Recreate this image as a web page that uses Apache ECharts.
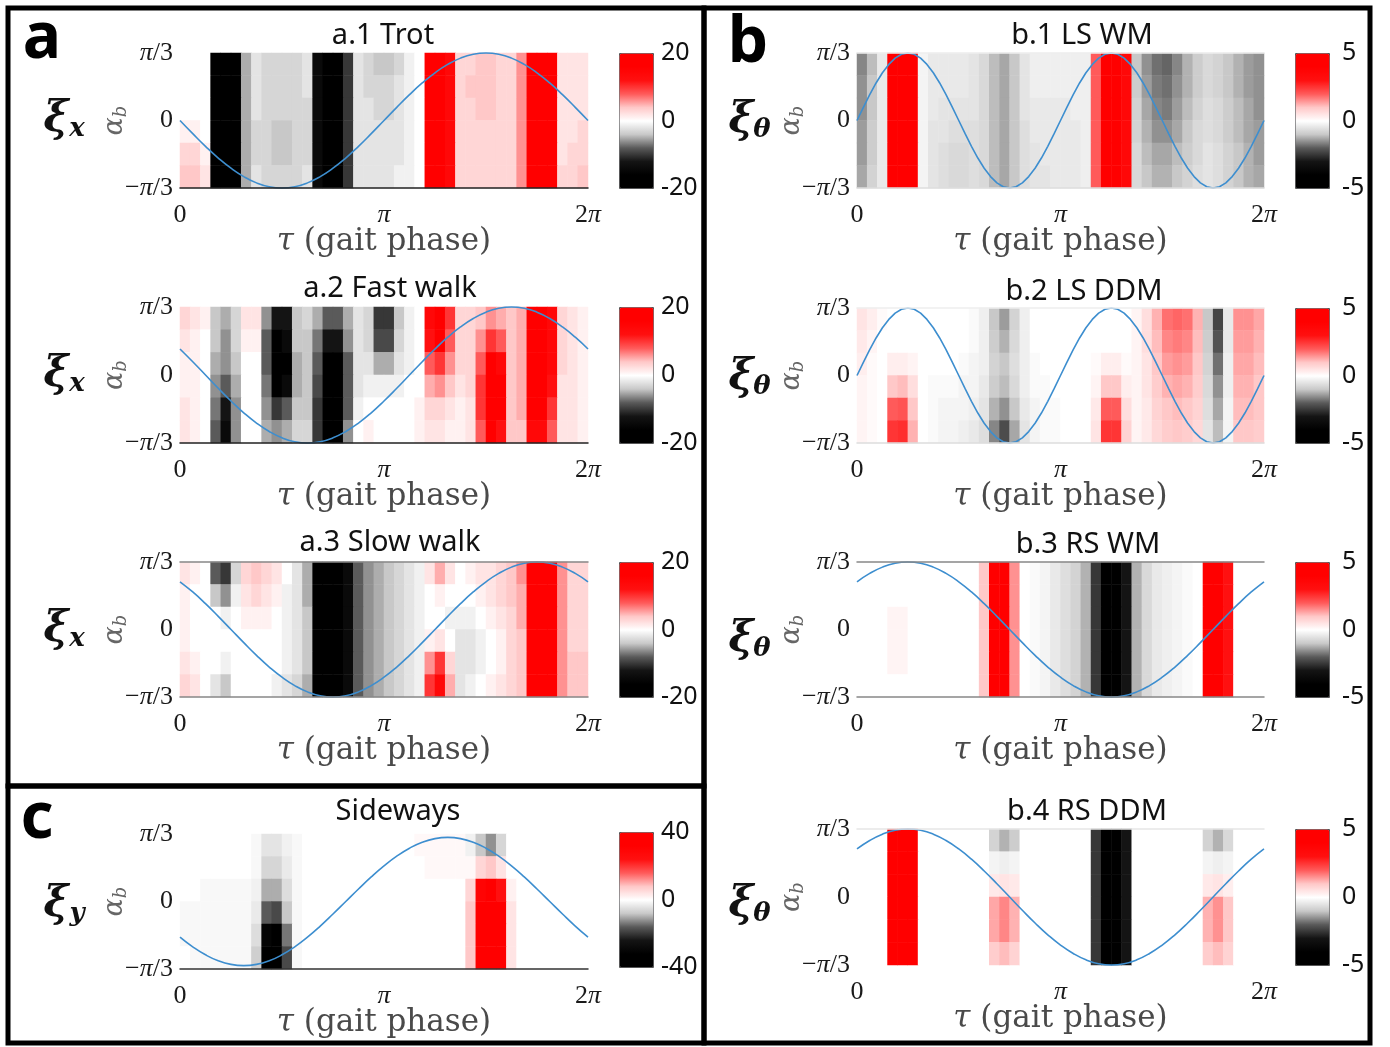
<!DOCTYPE html>
<html><head><meta charset="utf-8">
<script src="https://cdn.jsdelivr.net/npm/echarts@6/dist/echarts.min.js"></script>
<style>html,body{margin:0;padding:0;background:#fff}#chart{width:1390px;height:1047px}</style>
</head><body><div id="chart"></div>
<script>
// ---------- DATA ----------
// gait phase sample positions (in units of pi)
const tau33 = [0,0.0625,0.125,0.1875,0.25,0.3125,0.375,0.4375,0.5,0.5625,0.625,0.6875,0.75,0.8125,0.875,0.9375,1,1.0625,1.125,1.1875,1.25,1.3125,1.375,1.4375,1.5,1.5625,1.625,1.6875,1.75,1.8125,1.875,1.9375,2];
const tau65 = [0,0.03125,0.0625,0.09375,0.125,0.15625,0.1875,0.21875,0.25,0.28125,0.3125,0.34375,0.375,0.40625,0.4375,0.46875,0.5,0.53125,0.5625,0.59375,0.625,0.65625,0.6875,0.71875,0.75,0.78125,0.8125,0.84375,0.875,0.90625,0.9375,0.96875,1,1.03125,1.0625,1.09375,1.125,1.15625,1.1875,1.21875,1.25,1.28125,1.3125,1.34375,1.375,1.40625,1.4375,1.46875,1.5,1.53125,1.5625,1.59375,1.625,1.65625,1.6875,1.71875,1.75,1.78125,1.8125,1.84375,1.875,1.90625,1.9375,1.96875,2];

// body angle trajectories (in units of pi/3)
const a1Curve = [0,-.195,-.383,-.556,-.707,-.831,-.924,-.981,-1,-.981,-.924,-.831,-.707,-.556,-.383,-.195,0,.195,.383,.556,.707,.831,.924,.981,1,.981,.924,.831,.707,.556,.383,.195,0];
const a2Curve = [.383,.195,0,-.195,-.383,-.556,-.707,-.831,-.924,-.981,-1,-.981,-.924,-.831,-.707,-.556,-.383,-.195,0,.195,.383,.556,.707,.831,.924,.981,1,.981,.924,.831,.707,.556,.383];
const a3Curve = [.707,.556,.383,.195,0,-.195,-.383,-.556,-.707,-.831,-.924,-.981,-1,-.981,-.924,-.831,-.707,-.556,-.383,-.195,0,.195,.383,.556,.707,.831,.924,.981,1,.981,.924,.831,.707];
const cCurve = [-.528,-.672,-.790,-.878,-.932,-.95,-.932,-.878,-.790,-.672,-.528,-.364,-.185,0,.185,.364,.528,.672,.790,.878,.932,.95,.932,.878,.790,.672,.528,.364,.185,0,-.185,-.364,-.528];
const b1Curve = [0,.195,.383,.556,.707,.831,.924,.981,1,.981,.924,.831,.707,.556,.383,.195,0,-.195,-.383,-.556,-.707,-.831,-.924,-.981,-1,-.981,-.924,-.831,-.707,-.556,-.383,-.195,0,.195,.383,.556,.707,.831,.924,.981,1,.981,.924,.831,.707,.556,.383,.195,0,-.195,-.383,-.556,-.707,-.831,-.924,-.981,-1,-.981,-.924,-.831,-.707,-.556,-.383,-.195,0];
const b2Curve = [0,.195,.383,.556,.707,.831,.924,.981,1,.981,.924,.831,.707,.556,.383,.195,0,-.195,-.383,-.556,-.707,-.831,-.924,-.981,-1,-.981,-.924,-.831,-.707,-.556,-.383,-.195,0,.195,.383,.556,.707,.831,.924,.981,1,.981,.924,.831,.707,.556,.383,.195,0,-.195,-.383,-.556,-.707,-.831,-.924,-.981,-1,-.981,-.924,-.831,-.707,-.556,-.383,-.195,0];
const b3Curve = [.707,.831,.924,.981,1,.981,.924,.831,.707,.556,.383,.195,0,-.195,-.383,-.556,-.707,-.831,-.924,-.981,-1,-.981,-.924,-.831,-.707,-.556,-.383,-.195,0,.195,.383,.556,.707];
const b4Curve = [.707,.831,.924,.981,1,.981,.924,.831,.707,.556,.383,.195,0,-.195,-.383,-.556,-.707,-.831,-.924,-.981,-1,-.981,-.924,-.831,-.707,-.556,-.383,-.195,0,.195,.383,.556,.707];

// heat maps: rows from top (alpha=pi/3) to bottom (alpha=-pi/3), 40 phase bins each
const a1Rows = [
 [0,0,0,-16,-20,-20,-5,-2,-3,-3,-3,-3,-2,-14,-20,-20,-10,-2,-3,-4,-4,-3,-1,0,20,20,14,3,3,4,4,3,3,6,20,20,16,2,2,2],
 [0,0,0,-16,-20,-20,-5,-2,-3,-3,-3,-3,-2,-14,-20,-20,-10,-2,-3,-3,-3,-2,-1,0,20,20,14,3,4,4,4,3,3,6,20,20,16,2,2,2],
 [0,0,0,-16,-20,-20,-5,-2,-3,-3,-3,-3,-3,-14,-20,-20,-10,-2,-2,-3,-3,-2,-1,0,20,20,14,3,3,4,4,3,3,6,20,20,16,2,2,2],
 [1,1,0,-16,-20,-20,-5,-3,-3,-4,-4,-3,-3,-14,-20,-20,-10,-2,-2,-2,-2,-2,-1,0,20,20,14,3,3,3,3,3,3,6,20,20,16,2,2,3],
 [3,3,1,-16,-20,-20,-5,-3,-3,-4,-4,-3,-3,-14,-20,-20,-10,-2,-2,-2,-2,-2,-1,0,20,20,14,3,3,3,3,3,3,6,20,20,16,2,3,3],
 [4,4,2,-16,-20,-20,-5,-2,-3,-3,-3,-3,-2,-14,-20,-20,-10,-2,-2,-2,-2,-1,-1,0,20,20,14,3,3,3,3,3,3,6,20,20,16,3,3,4]
];
const a2Rows = [
 [3,2,1,-4,-5,-3,2,2,-6,-12,-12,-4,-3,-5,-8,-8,-5,-2,-3,-10,-10,-4,-1,0,14,20,10,3,3,4,6,5,4,5,20,20,14,3,2,1],
 [2,1,0,-4,-6,-3,1,1,-8,-16,-14,-4,-4,-7,-12,-12,-6,-2,-3,-9,-9,-3,-1,0,12,16,8,3,3,6,10,8,4,5,20,20,14,3,2,1],
 [1,1,0,-5,-6,-4,0,0,-8,-18,-16,-5,-4,-8,-16,-18,-8,-2,-2,-5,-5,-2,-1,0,8,10,6,3,3,8,18,14,4,5,20,20,14,3,2,1],
 [1,1,0,-6,-8,-5,0,0,-7,-16,-14,-5,-4,-9,-18,-18,-8,-2,-1,-1,-1,-1,0,0,5,6,4,2,3,10,20,20,4,5,20,20,12,2,2,1],
 [2,1,0,-7,-12,-6,0,0,-6,-10,-8,-4,-4,-10,-20,-18,-8,-1,0,0,0,0,0,1,3,3,2,1,2,10,20,18,4,5,18,18,10,2,2,1],
 [2,1,0,-8,-14,-6,0,0,-5,-6,-5,-3,-3,-10,-20,-16,-6,0,1,0,0,0,0,1,2,2,1,1,2,8,18,12,4,4,14,14,8,2,2,1]
];
const a3Rows = [
 [2,1,0,-8,-10,-3,3,4,3,2,0,-2,-5,-16,-20,-20,-14,-8,-6,-5,-4,-3,-2,-1,2,5,2,0,1,2,2,3,4,6,18,20,20,6,3,3],
 [1,0,0,-4,-6,-1,2,3,2,1,-1,-2,-5,-16,-20,-20,-14,-8,-6,-5,-4,-3,-2,-1,0,1,0,0,0,1,2,3,4,5,18,20,20,6,3,3],
 [1,0,0,0,-1,0,1,1,1,0,-1,-2,-4,-16,-20,-20,-14,-8,-6,-5,-4,-3,-2,-1,0,0,-1,-1,-1,0,1,2,3,5,18,20,20,6,3,3],
 [1,0,0,0,0,0,0,0,0,0,-1,-2,-4,-16,-20,-20,-14,-8,-6,-5,-4,-3,-2,-1,1,2,0,-2,-2,-1,0,1,3,4,18,20,20,6,3,3],
 [2,1,0,0,-1,0,0,0,0,0,-1,-2,-4,-16,-20,-20,-14,-8,-6,-5,-4,-3,-2,-1,6,10,3,-2,-2,-1,0,1,3,4,18,20,20,6,4,4],
 [3,2,0,-2,-4,0,0,0,0,-1,-2,-3,-5,-16,-20,-20,-14,-8,-6,-5,-4,-3,-2,-1,10,14,5,-2,-1,0,1,2,3,4,18,20,20,6,4,4]
];
const cRows = [
 [0,0,0,0,0,0,0,-1,-4,-4,-2,-1,0,0,0,0,0,0,0,0,0,0,0,1,1,1,1,1,-2,-8,-12,-6,0,0,0,0,0,0,0,0],
 [0,0,0,0,0,0,0,-1,-6,-6,-3,-1,0,0,0,0,0,0,0,0,0,0,0,0,1,1,1,1,1,6,8,4,0,0,0,0,0,0,0,0],
 [0,0,-1,-1,-1,-1,-1,-2,-10,-10,-5,-1,0,0,0,0,0,0,0,0,0,0,0,0,0,0,0,0,6,30,36,24,2,0,0,0,0,0,0,0],
 [-1,-1,-1,-1,-1,-1,-1,-3,-16,-18,-8,-1,0,0,0,0,0,0,0,0,0,0,0,0,0,0,0,0,8,40,40,34,4,0,0,0,0,0,0,0],
 [-1,-1,-1,-1,-1,-1,-1,-5,-30,-34,-14,-1,0,0,0,0,0,0,0,0,0,0,0,0,0,0,0,0,8,40,40,36,4,0,0,0,0,0,0,0],
 [0,-1,-1,-1,-1,-1,-1,-7,-36,-40,-18,-1,0,0,0,0,0,0,0,0,0,0,0,0,0,0,0,0,8,40,40,36,4,0,0,0,0,0,0,0]
];
const b1Rows = [
 [-1.6,-1.1,-0.4,5,5,4.5,-0.2,-0.4,-0.4,-0.4,-0.4,-0.5,-0.7,-1.1,-1.3,-1.0,-0.5,-0.3,-0.3,-0.3,-0.3,-0.3,-0.3,2,5,5,3.5,-1.0,-1.5,-1.8,-1.9,-1.6,-1.2,-0.9,-0.7,-0.8,-1.0,-1.2,-1.4,-1.5],
 [-1.5,-1.0,-0.4,5,5,4.5,-0.2,-0.4,-0.4,-0.4,-0.4,-0.5,-0.7,-1.1,-1.3,-1.0,-0.5,-0.3,-0.3,-0.3,-0.3,-0.3,-0.3,2,5,5,3.5,-0.9,-1.4,-1.7,-1.8,-1.5,-1.2,-0.9,-0.7,-0.8,-1.0,-1.2,-1.4,-1.5],
 [-1.5,-1.0,-0.4,5,5,4.5,-0.2,-0.4,-0.5,-0.5,-0.5,-0.5,-0.7,-1.1,-1.3,-1.0,-0.5,-0.4,-0.4,-0.4,-0.4,-0.3,-0.3,2,5,5,3.5,-0.8,-1.3,-1.6,-1.7,-1.4,-1.1,-0.8,-0.6,-0.7,-0.9,-1.1,-1.3,-1.5],
 [-1.4,-0.9,-0.4,5,5,4.5,-0.2,-0.5,-0.5,-0.6,-0.6,-0.6,-0.7,-1.1,-1.3,-1.0,-0.6,-0.4,-0.4,-0.4,-0.4,-0.4,-0.3,2,5,5,3.5,-0.8,-1.2,-1.5,-1.5,-1.3,-1.0,-0.7,-0.6,-0.7,-0.9,-1.1,-1.3,-1.4],
 [-1.4,-0.9,-0.4,5,5,4.5,-0.2,-0.5,-0.6,-0.7,-0.7,-0.6,-0.7,-1.1,-1.3,-1.0,-0.6,-0.5,-0.4,-0.4,-0.4,-0.4,-0.3,2,5,5,3.5,-0.7,-1.1,-1.3,-1.3,-1.1,-0.9,-0.7,-0.5,-0.6,-0.8,-1.0,-1.2,-1.4],
 [-1.3,-0.8,-0.4,5,5,4.5,-0.2,-0.5,-0.6,-0.7,-0.7,-0.6,-0.7,-1.1,-1.3,-1.0,-0.6,-0.5,-0.5,-0.4,-0.4,-0.4,-0.3,2,5,5,3.5,-0.7,-1.0,-1.2,-1.2,-1.0,-0.8,-0.6,-0.5,-0.6,-0.8,-1.0,-1.2,-1.3]
];
const b2Rows = [
 [0.5,0.3,0.1,0,0,0,0,0,0,0,0,-0.1,-0.3,-1.0,-1.4,-0.8,-0.3,0,0,0,0,0,0,0,0,0,0,0.2,0.6,1.2,1.8,1.9,1.8,1.2,-1.0,-2.3,-0.4,1.5,1.5,1.3],
 [0.4,0.2,0,0,0,0,0,0,0,0,0,-0.1,-0.3,-0.9,-1.2,-0.7,-0.3,0,0,0,0,0,0,0,0,0,0,0.2,0.6,1.1,1.6,1.7,1.6,1.1,-0.9,-2.1,-0.4,1.4,1.4,1.2],
 [0.3,0.1,0,0.3,0.3,0.2,0,0,0,0,-0.1,-0.2,-0.3,-0.8,-1.0,-0.6,-0.3,-0.1,0,0,0,0,0,0.1,0.3,0.3,0.1,0.2,0.5,1.0,1.4,1.5,1.4,1.0,-0.8,-1.8,-0.3,1.3,1.3,1.1],
 [0.2,0.1,0,1.0,1.1,0.6,0,-0.1,-0.1,-0.1,-0.2,-0.2,-0.4,-0.9,-1.1,-0.7,-0.3,-0.1,-0.1,0,0,0,0,0.2,1.0,1.0,0.3,0.2,0.5,0.9,1.2,1.3,1.2,0.9,-0.7,-1.5,-0.3,1.2,1.2,1.0],
 [0.2,0.1,0,2.0,2.1,1.0,0,-0.1,-0.2,-0.2,-0.2,-0.3,-0.5,-1.2,-1.5,-1.0,-0.4,-0.2,-0.1,-0.1,0,0,0,0.4,2.0,2.0,0.6,0.2,0.4,0.8,1.0,1.1,1.0,0.8,-0.6,-1.3,-0.2,1.1,1.1,1.0],
 [0.2,0.1,0,2.5,2.6,1.2,0,-0.1,-0.2,-0.2,-0.3,-0.4,-0.6,-1.6,-2.2,-1.3,-0.5,-0.2,-0.1,-0.1,0,0,0,0.5,2.5,2.5,0.8,0.2,0.4,0.7,0.9,1.0,0.9,0.7,-0.5,-1.1,-0.2,1.0,1.0,0.9]
];
const b3Rows = [
 [0,0,0,0,0,0,0,0,0,0,0,0,1,5,5,1.5,0,-0.1,-0.2,-0.4,-0.6,-0.8,-1.2,-2.5,-5,-5,-3,-1.2,-0.7,-0.4,-0.3,-0.2,-0.1,0,4.5,5,3,0,0,0],
 [0,0,0,0,0,0,0,0,0,0,0,0,1,5,5,1.5,0,-0.1,-0.2,-0.4,-0.6,-0.8,-1.2,-2.5,-5,-5,-3,-1.2,-0.7,-0.4,-0.3,-0.2,-0.1,0,4.5,5,3,0,0,0],
 [0,0,0,0.2,0.2,0,0,0,0,0,0,0,1,5,5,1.5,0,-0.1,-0.2,-0.4,-0.6,-0.8,-1.2,-2.5,-5,-5,-3,-1.2,-0.7,-0.4,-0.3,-0.2,-0.1,0,4.5,5,3,0,0,0],
 [0,0,0,0.2,0.2,0,0,0,0,0,0,0,1,5,5,1.5,0,-0.1,-0.2,-0.4,-0.6,-0.8,-1.2,-2.5,-5,-5,-3,-1.2,-0.7,-0.4,-0.3,-0.2,-0.1,0,4.5,5,3,0,0,0],
 [0,0,0,0.2,0.2,0,0,0,0,0,0,0,1,5,5,1.5,0,-0.1,-0.2,-0.4,-0.6,-0.8,-1.2,-2.5,-5,-5,-3,-1.2,-0.7,-0.4,-0.3,-0.2,-0.1,0,4.5,5,3,0,0,0],
 [0,0,0,0,0,0,0,0,0,0,0,0,1,5,5,1.5,0,-0.1,-0.2,-0.4,-0.6,-0.8,-1.2,-2.5,-5,-5,-3,-1.2,-0.7,-0.4,-0.3,-0.2,-0.1,0,4.5,5,3,0,0,0]
];
const b4Rows = [
 [0,0,0,5,5,4.5,0,0,0,0,0,0,0,-0.8,-1.2,-0.9,0,0,0,0,0,0,0,-2.5,-5,-5,-3,0,0,0,0,0,0,0,-0.8,-1.2,-0.7,0,0,0],
 [0,0,0,5,5,4.5,0,0,0,0,0,0,0,-0.2,-0.3,-0.2,0,0,0,0,0,0,0,-2.5,-5,-5,-3,0,0,0,0,0,0,0,-0.2,-0.3,-0.2,0,0,0],
 [0,0,0,5,5,4.5,0,0,0,0,0,0,0,0.4,0.5,0.4,0,0,0,0,0,0,0,-2.5,-5,-5,-3,0,0,0,0,0,0,0,0.4,0.5,0.3,0,0,0],
 [0,0,0,5,5,4.5,0,0,0,0,0,0,0,1.3,1.6,1.2,0,0,0,0,0,0,0,-2.5,-5,-5,-3,0,0,0,0,0,0,0,1.2,1.5,1.0,0,0,0],
 [0,0,0,5,5,4.5,0,0,0,0,0,0,0,1.3,1.6,1.2,0,0,0,0,0,0,0,-2.5,-5,-5,-3,0,0,0,0,0,0,0,1.2,1.5,1.0,0,0,0],
 [0,0,0,5,5,4.5,0,0,0,0,0,0,0,0.9,1.1,0.8,0,0,0,0,0,0,0,-2.5,-5,-5,-3,0,0,0,0,0,0,0,0.9,1.1,0.8,0,0,0]
];

// colour scale limits and colour-bar tick values
const aTicks = [-20, 0, 20];
const cTicks = [-40, 0, 40];
const bTicks = [-5, 0, 5];
const titles = ['a.1 Trot','a.2 Fast walk','a.3 Slow walk','Sideways','b.1 LS WM','b.2 LS DDM','b.3 RS WM','b.4 RS DDM'];

// ---------- LAYOUT / STYLE ----------
const cmap = ['#000000','#000000','#141414','#5a5a5a','#c8c8c8','#ffffff','#ffc8c8','#ff5a5a','#ff1010','#ff0000','#ff0000'];
const LINE = '#3d8ecf';
const panels = [
 {rows:a1Rows, tau:tau33, curve:a1Curve, ticks:aTicks, title:titles[0], tx:383, ty:36, g:[180,53,408,135], cb:619, cbm:8, sub:'x', sx:56, sy:120, bottom:'#222', top:null, smooth:true},
 {rows:a2Rows, tau:tau33, curve:a2Curve, ticks:aTicks, title:titles[1], tx:390, ty:289, g:[180,307,408,136], cb:619, cbm:8, sub:'x', sx:56, sy:375, bottom:'#222', top:null, smooth:true},
 {rows:a3Rows, tau:tau33, curve:a3Curve, ticks:aTicks, title:titles[2], tx:390, ty:543, g:[180,562,408,135], cb:619, cbm:8, sub:'x', sx:56, sy:630, bottom:'#888', top:'#888', smooth:true},
 {rows:cRows, tau:tau33, curve:cCurve, ticks:cTicks, title:titles[3], tx:398, ty:812, g:[180,834,408,135], cb:619, cbm:8, sub:'y', sx:56, sy:905, bottom:'#333', top:null, smooth:true, cbTop:832},
 {rows:b1Rows, tau:tau65, curve:b1Curve, ticks:bTicks, title:titles[4], tx:1082, ty:36, g:[857,53,407,135], cb:1295, cbm:13, sub:'θ', sx:741, sy:121, bottom:'#ddd', top:'#eee', smooth:false},
 {rows:b2Rows, tau:tau65, curve:b2Curve, ticks:bTicks, title:titles[5], tx:1084, ty:292, g:[857,308,407,135], cb:1295, cbm:13, sub:'θ', sx:741, sy:378, bottom:'#ddd', top:'#eee', smooth:false},
 {rows:b3Rows, tau:tau33, curve:b3Curve, ticks:bTicks, title:titles[6], tx:1088, ty:545, g:[857,562,407,135], cb:1295, cbm:13, sub:'θ', sx:741, sy:640, bottom:'#888', top:'#888', smooth:true},
 {rows:b4Rows, tau:tau33, curve:b4Curve, ticks:bTicks, title:titles[7], tx:1087, ty:812, g:[857,829,407,136], cb:1295, cbm:13, sub:'θ', sx:741, sy:905, bottom:null, top:'#e6e6e6', smooth:true}
];

const SERIF = 'DejaVu Serif';
const TICKF = 'Liberation Serif';
const tickRich = {
  n:{fontFamily:TICKF, fontSize:26, color:'#1a1a1a'},
  i:{fontFamily:TICKF, fontSize:26, fontStyle:'italic', color:'#1a1a1a'}
};
const xFmt = v => v === 0 ? '{n|0}' : (v === 1 ? '{i|π}' : '{n|2}{i|π}');
const yFmt = v => v === 1 ? '{i|π}{n|/3}' : (v === 0 ? '{n|0}' : '{n|−}{i|π}{n|/3}');

const option = {animation:false, backgroundColor:'#fff', title:[], grid:[], xAxis:[], yAxis:[], visualMap:[], series:[], graphic:[]};

panels.forEach(p => {
  const [L,T,W,H] = p.g;
  const gi = option.grid.length;
  option.grid.push({left:L, top:T, width:W, height:H});
  const xi = option.xAxis.length, yi = option.yAxis.length;
  option.xAxis.push({type:'value', gridIndex:gi, min:0, max:2, interval:1, position:'bottom', z:10,
    axisLine:{show:!!p.bottom, onZero:false, lineStyle:{color:p.bottom||'#000', width:1.5}},
    axisTick:{show:false}, splitLine:{show:false},
    axisLabel:{margin:14, formatter:xFmt, rich:tickRich},
    name:'{i|τ} (gait phase)', nameLocation:'middle', nameGap:38, nameMoveOverlap:false,
    nameTextStyle:{fontFamily:SERIF, fontSize:31, color:'#4a4a4a', rich:{i:{fontFamily:SERIF, fontStyle:'italic', fontSize:31, color:'#4a4a4a'}}}});
  const cols = p.rows[0].map((_, i) => i);
  const rowIds = p.rows.map((_, i) => i);
  option.xAxis.push({type:'category', gridIndex:gi, data:cols, position:'top', z:10,
    axisLine:{show:!!p.top, onZero:false, lineStyle:{color:p.top||'#000', width:1.5}},
    axisTick:{show:false}, axisLabel:{show:false}, splitLine:{show:false}});
  option.yAxis.push({type:'value', gridIndex:gi, min:-1, max:1, interval:1, z:10,
    axisLine:{show:false}, axisTick:{show:false}, splitLine:{show:false},
    axisLabel:{margin:7, formatter:yFmt, rich:tickRich},
    name:'{a|α}{b|b}', nameLocation:'middle', nameRotate:90, nameGap:50, nameMoveOverlap:false,
    nameTextStyle:{rich:{a:{fontFamily:SERIF, fontStyle:'italic', fontSize:27, color:'#666'},
                         b:{fontFamily:SERIF, fontStyle:'italic', fontSize:18, color:'#666', padding:[12,0,0,0]}}}});
  option.yAxis.push({type:'category', gridIndex:gi, data:rowIds, inverse:true, show:false});

  const data = [];
  p.rows.forEach((row, r) => row.forEach((v, c) => data.push([c, r, v])));
  const hi = option.series.length;
  option.series.push({type:'heatmap', xAxisIndex:xi+1, yAxisIndex:yi+1, data:data, silent:true, emphasis:{disabled:true}, z:1});
  option.series.push({type:'line', xAxisIndex:xi, yAxisIndex:yi, data:p.tau.map((t, i) => [t, p.curve[i]]),
    symbol:'none', smooth:p.smooth, silent:true, z:5, clip:false, lineStyle:{color:LINE, width:1.6}});

  const range = p.ticks[2];
  const cbTop = p.cbTop || T;
  option.visualMap.push({type:'continuous', seriesIndex:hi, min:-range, max:range, inRange:{color:cmap},
    orient:'vertical', left:p.cb, top:cbTop, itemWidth:34, itemHeight:H, calculable:false, hoverLink:false,
    padding:0, borderColor:'#555', borderWidth:1});
  // colour-bar tick labels
  const cg = option.grid.length;
  option.grid.push({left:p.cb, top:cbTop, width:34, height:H});
  option.xAxis.push({type:'value', gridIndex:cg, min:0, max:1, show:false});
  option.yAxis.push({type:'value', gridIndex:cg, min:p.ticks[0], max:p.ticks[2], interval:range, position:'right',
    axisLine:{show:false}, axisTick:{show:false}, splitLine:{show:false},
    axisLabel:{margin:p.cbm, fontFamily:'Noto Sans', fontSize:25, color:'#111'}});

  option.title.push({text:p.title, left:p.tx, top:p.ty, textAlign:'center', textVerticalAlign:'middle', padding:0,
    textStyle:{fontFamily:'Noto Sans', fontWeight:'normal', fontSize:29, color:'#111'}});
  option.title.push({text:'ξ', left:p.sx, top:p.sy, textAlign:'center', textVerticalAlign:'middle', padding:0,
    textStyle:{fontFamily:SERIF, fontWeight:'bold', fontStyle:'italic', fontSize:42, color:'#111'}});
  option.title.push({text:p.sub, left:p.sx + 21, top:p.sy + 9, textAlign:'center', textVerticalAlign:'middle', padding:0,
    textStyle:{fontFamily:SERIF, fontWeight:'bold', fontStyle:'italic', fontSize:26, color:'#111'}});
});

[['a',42,40],['b',748,44],['c',37,820]].forEach(([t,x,y]) => option.title.push({text:t, left:x, top:y,
  textAlign:'center', textVerticalAlign:'middle', padding:0,
  textStyle:{fontFamily:'Noto Sans', fontWeight:'bold', fontSize:64, color:'#000'}}));

option.graphic = [
  {type:'rect', shape:{x:8, y:8, width:696, height:778}, style:{fill:'none', stroke:'#000', lineWidth:5}, z:100, silent:true},
  {type:'rect', shape:{x:8, y:786, width:696, height:257}, style:{fill:'none', stroke:'#000', lineWidth:5}, z:100, silent:true},
  {type:'rect', shape:{x:704, y:8, width:666, height:1035}, style:{fill:'none', stroke:'#000', lineWidth:5}, z:100, silent:true}
];

const chart = echarts.init(document.getElementById('chart'), null, {renderer:'canvas'});
chart.setOption(option);
</script></body></html>
